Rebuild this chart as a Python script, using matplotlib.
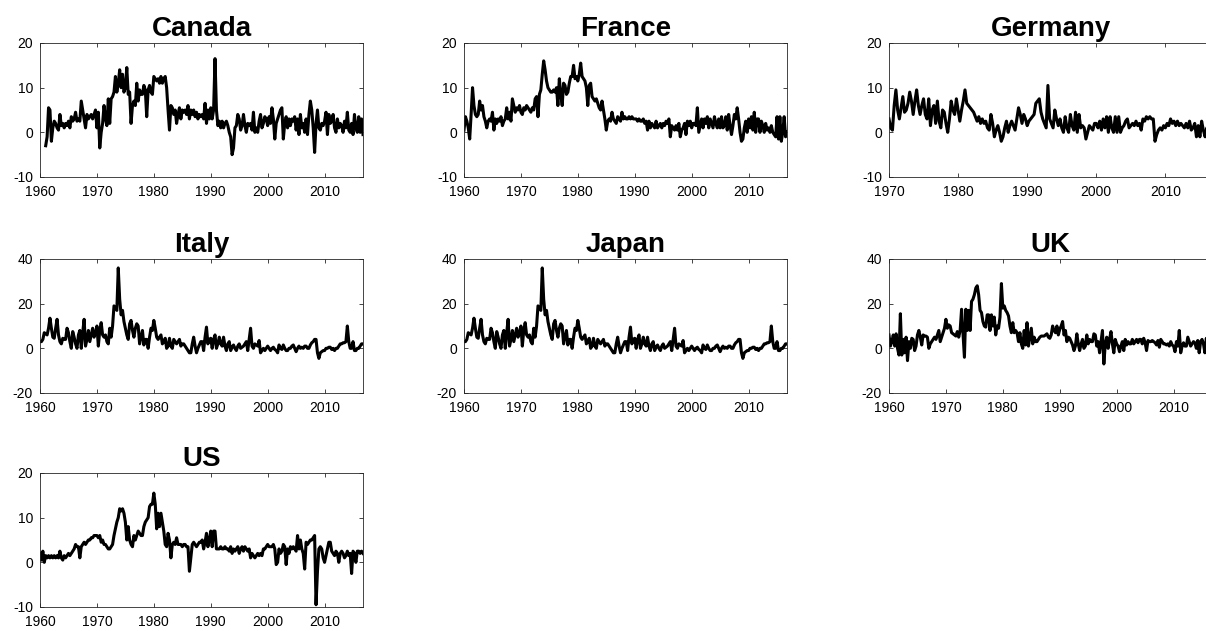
import numpy as np
import matplotlib
matplotlib.use("Agg")
import matplotlib.pyplot as plt

plt.rcParams['font.family'] = ['Liberation Sans', 'DejaVu Sans']
plt.rcParams['axes.unicode_minus'] = False

# quarterly inflation rates (%), one row per year

canada_start = 1961
canada = [
    -3, -1, 5.5, 5,        # 1961
    -2, 1, 2.5, 2,
    1, 0.5, 4, 1.5,
    2, 1, 2, 1.5,
    2.5, 1, 3.5, 2.5,      # 1965
    3, 4.5, 2.5, 3,
    2.5, 7, 5, 3,
    1, 4, 3, 3.5,
    4, 3, 4, 5,
    1, 4.5, -3.5, 0,       # 1970
    2, 6, 3, 1.5,
    7.5, 2, 7.5, 8,
    9, 12.5, 9, 11,
    14, 10, 13, 9,
    10, 14.5, 8.5, 9,      # 1975
    2, 6, 7, 6,
    11, 7, 9.5, 8.5,
    8.5, 10.5, 9.5, 3.5,
    9.5, 10.5, 9, 8.5,
    12.5, 12, 11.5, 12,    # 1980
    11, 12.5, 11, 12,
    12.5, 10, 5, 0.5,
    6, 5.5, 4, 5,
    2, 4, 5.5, 3,
    5, 4.5, 5, 4,          # 1985
    6, 3, 5, 4,
    5, 3.5, 4.5, 3,
    4, 3.5, 4, 3,
    6.5, 2, 5, 3,
    5.5, 3, 5, 16.5,       # 1990
    5, 1.5, 2.5, 1,
    2.5, 1, 2, 2.5,
    1.5, 0, -1, -5,
    -3.5, 1, 1.5, 4,
    3, 0.5, 1.5, 4,        # 1995
    1.5, 0, 2, 1.5,
    2, 0.5, 4.5, 0,
    1, 0, 2.5, 4,
    1, 2, 3.5, 3,
    1.5, 3.5, 2, 5.5,      # 2000
    3, -1.5, 2, 3,
    4, 5, 5.5, -1.5,
    2, 3.5, 1, 3,
    1.5, 3, 2.5, 3.5,
    0.5, 3, -0.5, 4,       # 2005
    1, 2, 0, 3,
    -0.5, 4, 7, 5,
    1, -4.5, 2, 5,
    1, 0.5, 2, 1.5,
    2.5, 4.5, -0.5, 4,     # 2010
    2, 2.5, 4, 1,
    0, 3, 1, 2,
    1.5, 0, 2.5, 1,
    4.5, 0.5, 0, 2,
    -0.5, 4, 1, 0,         # 2015
    3.5, 0, 3, -0.5,
]

france_start = 1960
france = [
    0.5, 3.5, 2.5, 1,      # 1960
    -1.5, 4, 10, 6,
    4, 3.5, 4, 7,
    5, 6, 3.5, 2.5,
    1, 2.5, 3, 2.5,
    4.5, 0.5, 3, 2,        # 1965
    3, 2.5, 3.5, 1.5,
    2.5, 3, 5.5, 3,
    4.5, 2.5, 7.5, 6,
    4.5, 5.5, 5, 6,
    4.5, 4, 5.5, 5,        # 1970
    6, 5.5, 5, 4.5,
    5.5, 5, 7.5, 8,
    3.5, 8.5, 9.5, 13,
    16, 14, 11.5, 10,
    9.5, 9, 9, 9.5,        # 1975
    9, 10, 6, 12,
    8.5, 6, 11, 10.5,
    8.5, 9, 11, 12.5,
    12.5, 15, 12, 12.5,
    11.5, 13, 15.5, 12.5,  # 1980
    12, 11.5, 10, 6,
    10.5, 11, 8, 7.5,
    7, 7.5, 6.5, 5.5,
    5, 7, 5, 3,
    0.5, 2.5, 3, 2.5,      # 1985
    4.5, 3, 2.5, 2,
    3.5, 3, 2.5, 4.5,
    3, 3.5, 3, 3,
    3.5, 3, 3.5, 3,
    3, 3, 2.5, 3,          # 1990
    2.5, 2.5, 3, 2,
    2.5, 0.5, 2.5, 1,
    2, 1.5, 1, 2.5,
    1, 1.5, 2, 1,
    2, 1.5, 2.5, 2,        # 1995
    3, -1, 1.5, 1,
    0.5, 1.5, 0.5, 2,
    -1, 0.5, 1, 2,
    -0.5, 2.5, 1.5, 2.5,
    1, 2, 2, 1.5,          # 2000
    5.5, 0, 1.5, 3,
    1, 3, 2, 3.5,
    1, 3, 2, 1,
    3.5, 2, 1, 3,
    1, 3.5, 1, 1.5,        # 2005
    3.5, 0.5, 4, 1.5,
    -0.5, 1.5, 4, 3,
    5.5, 3, 0, -2,
    -1.5, 1, 2.5, 0,
    3, 1, 3.5, 0.5,        # 2010
    4.5, 0, 3, 3,
    0, 2.5, 1.5, 0,
    2, 0.5, 1, 0,
    1.5, 0, -0.5, -1,
    3.5, -1.5, 3.5, -2,    # 2015
    0, 3.5, -1, 0,
]

germany_start = 1970
germany = [
    3, 1, 0.5, 6,          # 1970
    9.5, 5, 3, 5.5,
    8, 4.5, 5, 6.5,
    9, 7, 4, 7,
    9.5, 6, 4, 6,
    7.5, 4, 3, 7.5,        # 1975
    1.5, 5, 6, 2,
    7, 2.5, 1, 5,
    4.5, 2, 0, 3,
    7, 5, 4, 7.5,
    5, 2.5, 5, 7,          # 1980
    9.5, 6.5, 6, 5.5,
    5, 4.5, 3.5, 2.5,
    3.5, 2, 3, 2,
    2.5, 1, 0.5, 4,
    2, -1, 0.5, 1.5,       # 1985
    0, -2, -1, 1,
    2.5, 0, 1.5, 2.5,
    1.5, 0.5, 3, 5.5,
    4, 2, 4, 3,
    1.5, 2.5, 3, 3.5,      # 1990
    4, 6.5, 7, 7.5,
    4.5, 3, 2, 1,
    10.5, 3, 2, 1,
    5, 3, 1.5, 3,
    1, 0, 3.5, 1,          # 1995
    0, 4, 1.5, 0.5,
    4.5, 0, 4, 1,
    1.5, 1, -1.5, 0,
    1.5, 1, 0.5, 2,
    2, 1, 2.5, 0.5,        # 2000
    3, 1, 3.5, 0,
    3.5, 1, 0, 3.5,
    0, 3.5, 0, 1,
    1.5, 2.5, 3, 1,
    1.5, 2, 1.5, 2.5,      # 2005
    1.5, 2, 0.5, 3,
    2.5, 3.5, 3, 3.5,
    3, 3, -2, -0.5,
    0.5, 1, 0.5, 1.5,
    1, 2, 1.5, 3,          # 2010
    2, 2.5, 1.5, 2.5,
    1.5, 2, 1.5, 1,
    2, 1, 2.5, 0.5,
    1, 2, -1, 1.5,
    -1, 2.5, 0.5, -1,      # 2015
    1, 0, -1, -1.5,
]

italy_start = 1960
italy = [
    3, 3, 4, 7,            # 1960
    6.5, 6, 9, 13.5,
    9, 5, 4.5, 9,
    13, 6, 3, 2,
    4.5, 4, 4, 9,
    7, 3, 0, 7.5,          # 1965
    5, 2, 0, 6,
    8, 0, 7, 13,
    1, 4, 8, 3,
    6, 9, 5, 7,
    10, 1, 8, 11.5,        # 1970
    6, 5, 6, 3,
    2, 9, 5, 10,
    19, 18, 17, 36,
    22, 15, 17, 12,
    9, 6, 4, 11,           # 1975
    12.5, 8, 5, 9,
    11, 10, 2, 5,
    8, 1.5, 4, 4,
    0, 5, 9, 8,
    12.5, 9, 5, 4,         # 1980
    5, 6, 2, 3,
    4.5, 0, 1, 4.5,
    1, 0, 4, 3,
    2, 3, 4, 1,
    2, 2, 1, 0,            # 1985
    -1, -2, -2, 2,
    5, 1, -2, 0,
    1.5, 3, 3, -1,
    5, 9.5, 2, 4,
    4.5, 0, 4, 6,          # 1990
    0, 2, 5, 2,
    1, 5, 1, -1,
    2, 3, -1, 0.5,
    1.5, 0, -1, 1,
    2, 0, 0.5, 1,          # 1995
    2, 3, -1, 4,
    9, 1, 0, 2,
    1.5, 1, 3.5, -2,
    -1, 0, -1, 0,
    1, 0, -1, 0,           # 2000
    0.5, -0.5, -1, -2,
    1.5, 0, -0.5, 1.5,
    0, -1, -1, 0,
    0, 1, 1.5, 0,
    -1.5, 0, 1, 0,         # 2005
    0.5, 0, 1, 1,
    0, 0, 1.5, 2.5,
    3, 4, 4, -2,
    -4.5, -2, -1.5, -1,
    -1, 0, 0, 0.5,         # 2010
    0.5, -0.5, 0, -1,
    0, 0, 1, 2,
    2, 2.5, 2.5, 3,
    10, 3, 0, 0,
    3, -1, -1, 0,          # 2015
    0, 1, 2, 2,
]

# the Japan panel of the reference shows the very same series as Italy
japan_start = 1960
japan = list(italy)

uk_start = 1960
uk = [
    6, 1, 3, 6,            # 1960
    1, 6.5, 0, -3,
    15.5, -3, 4, -2,
    5, -5.5, 3, 0,
    4.5, 4, -1, 1,
    6, 8, 5, 1.5,          # 1965
    6, 5.5, 5.5, 5,
    0, 2, 3, 4,
    5, 4, 6, 8,
    3, 5, 7, 9,
    13, 9, 10.5, 10,       # 1970
    7, 6.5, 6, 5.5,
    7.5, 5, 8, 17.5,
    7, -4, 17.5, 8,
    17, 8, 21, 22,
    24, 27, 28, 24,        # 1975
    17, 16, 12, 10,
    9.5, 15, 15, 8,
    15, 10, 14, 6,
    10, 9, 14, 29,
    18, 19, 17, 16,        # 1980
    14.5, 10, 7, 11.5,
    7, 8, 7, 3,
    7, 2, 0, 8,
    1.5, 11.5, 1, 5,
    9, 2, 5, 3,            # 1985
    3, 4, 5, 5.5,
    5.5, 5.5, 6, 6.5,
    5, 4.5, 6, 10,
    8, 7, 10, 6,
    8.5, 10, 12, 6,        # 1990
    8, 3, 5, 4.5,
    3, 1.5, -1, 1,
    6.5, 2, -1, 2,
    4, 0, 1, 6,
    2, 4, 3, 3,            # 1995
    6.5, 6, 1, 3,
    -2, 3, 8, -7,
    2, 5, 0, 4,
    7.5, 2, -2, 4,
    2, 1, -1.5, 1,         # 2000
    3, -1, 4, 1.5,
    3, 2, 2, 4,
    2, 3, 4, 2.5,
    4, 4, 2, 4.5,
    2.5, -1, 3.5, 3,       # 2005
    3, 3.5, 3, 2.5,
    1.5, 3.5, 0.5, 4,
    3, 2, 2, 1.5,
    2, 1, 3, 1.5,
    1, -1.5, 3, 1,         # 2010
    8, -2, 1, 2.5,
    1, 1, 5, 3,
    1, 2, 3, 2.5,
    0, 3.5, -2, 3,
    4, 2, -2, 4.5,         # 2015
    1, 3, 0.5, 2,
]

us_start = 1960
us = [
    2, 0.5, 2.5, 0,        # 1960
    1.5, 1, 1.5, 1,
    1.5, 1, 1.5, 1,
    1.5, 1, 2.5, 1,
    0.5, 1.5, 1, 1.5,
    2, 1.5, 2, 2.5,        # 1965
    3, 4, 3.5, 3.5,
    1, 3.5, 4, 4.5,
    4, 4.5, 5, 5,
    5.5, 5.5, 6, 6,
    6, 5.5, 6, 4.5,        # 1970
    5, 4, 4, 3.5,
    3, 3, 3.5, 4,
    6, 7.5, 9, 10,
    12, 11.5, 12, 11,
    9, 5, 8, 5,            # 1975
    4, 3.5, 6, 5,
    6, 7, 6.5, 6,
    6, 8, 9, 9.5,
    10, 12.5, 13, 13,
    15.5, 13, 7.5, 11,     # 1980
    8, 11, 9, 7,
    4, 3.5, 6.5, 5,
    1, 4, 4.5, 4,
    5.5, 4, 4, 4,
    3.5, 4, 4, 3.5,        # 1985
    3.5, -2, 1, 4,
    4.5, 4, 3.5, 4,
    4.5, 4.5, 5, 3,
    4.5, 6.5, 3.5, 5,
    7, 3.5, 7, 7,          # 1990
    3, 3, 3, 3.5,
    3, 3, 3.5, 3,
    3, 2.5, 3.5, 2,
    3, 2.5, 3, 3.5,
    2, 3, 3.5, 2.5,        # 1995
    3.5, 3, 2.5, 3,
    1, 2, 1.5, 1,
    1.5, 2, 1.5, 2,
    1.5, 3, 3, 3.5,
    4, 3.5, 3.5, 3.5,      # 2000
    4, 3, -0.5, 0,
    3, 2, 2.5, 4,
    3.5, -0.5, 3, 2,
    3.5, 3, 3.5, 3,
    2.5, 6, 3, 5,          # 2005
    3, 2, -1.5, 4.5,
    4, 4.5, 5, 5,
    5.5, 6, -9.5, -2,
    3, 3.5, 3, 1,
    0, 1.5, 3, 4.5,        # 2010
    4.5, 2.5, 2, 1.5,
    2.5, 2, 0, 2,
    2.5, 2, 1, 1.5,
    2.5, 1.5, 2, -2.5,
    2.5, 2, 0, 2.5,        # 2015
    2.5, 2, 2.5, 2,
]

panels = [
    ("Canada", canada_start, canada, 1960, [-10, 0, 10, 20]),
    ("France", france_start, france, 1960, [-10, 0, 10, 20]),
    ("Germany", germany_start, germany, 1970, [-10, 0, 10, 20]),
    ("Italy", italy_start, italy, 1960, [-20, 0, 20, 40]),
    ("Japan", japan_start, japan, 1960, [-20, 0, 20, 40]),
    ("UK", uk_start, uk, 1960, [-20, 0, 20, 40]),
    ("US", us_start, us, 1960, [-10, 0, 10, 20]),
]

W, H = 1206, 631
fig = plt.figure(figsize=(W / 100, H / 100), dpi=100)

col_left = [40, 464, 889]
row_top = [43, 259, 473]
ax_w, ax_h = 323, 134

for k, (name, start, vals, x0, yt) in enumerate(panels):
    r, c = divmod(k, 3)
    left = col_left[c] / W
    bottom = 1 - (row_top[r] + ax_h) / H
    ax = fig.add_axes([left, bottom, ax_w / W, ax_h / H])

    t = start + np.arange(len(vals)) / 4.0
    ax.plot(t, vals, color='black', linewidth=2.2)

    ax.set_xlim(x0, 2016.75)
    ax.set_ylim(yt[0], yt[-1])
    ax.set_xticks(np.arange(x0, 2011, 10))
    ax.set_yticks(yt)
    ax.tick_params(direction='in', length=3, width=0.6, top=True, right=True,
                   labelsize=10, colors='0.15', labelcolor='black')
    ax.tick_params(axis='x', pad=6)
    ax.tick_params(axis='y', pad=5)
    for s in ax.spines.values():
        s.set_linewidth(0.6)
        s.set_color('0.15')
    ax.set_title(name, fontsize=20, fontweight='bold', pad=5)

fig.savefig('out.png', dpi=100)
